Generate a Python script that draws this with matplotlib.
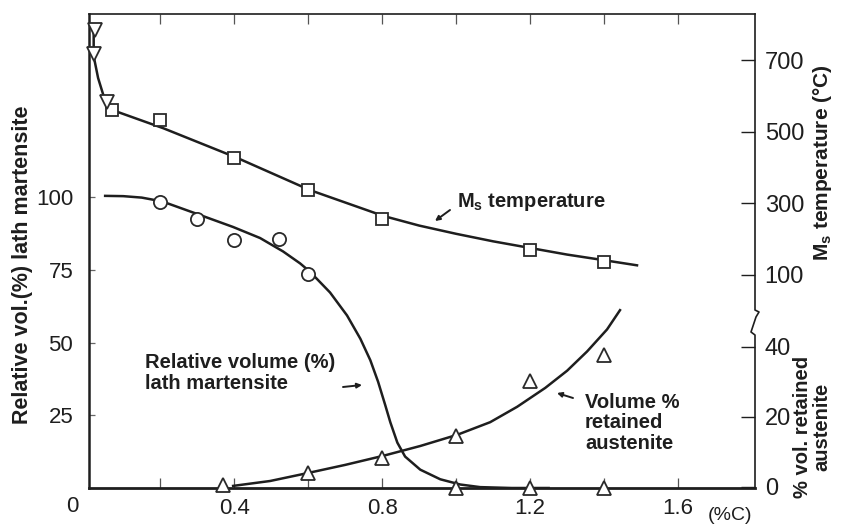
import numpy as np
import matplotlib.pyplot as plt

plt.rcParams['font.family'] = ['Liberation Sans', 'DejaVu Sans']
plt.rcParams['mathtext.fontset'] = 'custom'
plt.rcParams['mathtext.rm'] = 'Liberation Sans:bold'
plt.rcParams['mathtext.it'] = 'Liberation Sans:bold'
plt.rcParams['mathtext.bf'] = 'Liberation Sans:bold'

INK = '#1e1e1e'

# Ms temperature (deg C) vs carbon content (%C)
ms_sq_c = [0.07, 0.2, 0.4, 0.6, 0.8, 1.2, 1.4]
ms_sq_t = [561, 533, 427, 337, 256, 170, 136]
ms_tri_c = [0.024, 0.022, 0.057]
ms_tri_t = [784, 718, 583]
ms_curve_c = [0.020, 0.020, 0.021, 0.032, 0.046, 0.065, 0.086, 0.208, 0.408,
              0.605, 0.803, 0.9, 1.0, 1.1, 1.208, 1.3, 1.408, 1.489]
ms_curve_t = [776, 720, 706, 650, 603, 566, 555, 510, 427,
              337, 265, 238, 215, 194, 174, 157, 140, 127]

# relative volume (%) of lath martensite
lath_c = [0.2, 0.3, 0.4, 0.52, 0.6]
lath_v = [98.3, 92.4, 85.2, 85.6, 73.5]
lath_zero_c = [1.0, 1.2, 1.4]
lath_zero_v = [0, 0, 0]
lath_curve_c = [0.051, 0.1, 0.15, 0.205, 0.308, 0.397, 0.47, 0.532, 0.578,
                0.605, 0.659, 0.705, 0.741, 0.768, 0.789, 0.808, 0.822,
                0.841, 0.862, 0.903, 0.957, 1.011, 1.065, 1.15, 1.25]
lath_curve_v = [100.4, 100.3, 99.8, 98.5, 93.8, 89.7, 85.9, 81.3, 77.2,
                74.3, 67.2, 59.3, 51.3, 43.9, 36.5, 28.6, 22.6,
                15.6, 10.8, 6.3, 3.0, 1.2, 0.3, 0.0, 0.0]

# volume % retained austenite
ra_c = [0.37, 0.6, 0.8, 1.0, 1.2, 1.4]
ra_v = [0.6, 4.0, 8.3, 14.6, 30.3, 37.7]
ra_curve_c = [0.397, 0.497, 0.600, 0.700, 0.803, 0.903, 1.003, 1.092, 1.165,
              1.241, 1.300, 1.354, 1.408, 1.443]
ra_curve_v = [0.3, 1.7, 4.0, 6.3, 8.9, 11.7, 14.9, 18.5, 22.9,
              28.3, 33.2, 38.7, 45.0, 50.5]

x_ticks = [0.2, 0.4, 0.6, 0.8, 1.0, 1.2, 1.4, 1.6]
x_labels = ['', '0.4', '', '0.8', '', '1.2', '', '1.6']
lath_ticks = [25, 50, 75, 100]
ms_ticks = [100, 300, 500, 700]
ra_ticks = [0, 20, 40]

W, H = 843, 525


def fx(px):
    return px / W


def fy(py):
    return 1 - py / H


fig = plt.figure(figsize=(W / 100, H / 100), dpi=100)
fig.patch.set_facecolor('white')
ax = fig.add_axes([fx(88.5), fy(488), (755 - 88.5) / W, 474 / H])
ax.set_xlim(0.006, 1.808)
ax.set_ylim(0, 162.9)

ax_ms = ax.twinx()
ax_ms.set_ylim(-495, 829)
ax_ra = ax.twinx()
ax_ra.set_ylim(-0.3, 135.1)

for a in (ax_ms, ax_ra):
    for s in a.spines.values():
        s.set_visible(False)
ax.spines['right'].set_visible(False)
ax.spines['left'].set_linewidth(1.8)
ax.spines['bottom'].set_linewidth(2.0)
ax.spines['top'].set_linewidth(1.2)
for s in ax.spines.values():
    s.set_color(INK)

# broken right-hand spine
ax.plot([1, 1, 1.006, 1.0015, 0.994, 1, 1],
        [1, 0.3755, 0.3713, 0.3608, 0.3291, 0.3228, 0],
        transform=ax.transAxes, clip_on=False, color=INK, lw=1.2)

# x axis
ax.set_xticks(x_ticks)
ax.set_xticklabels(x_labels, fontsize=16)
ax.tick_params(axis='x', direction='in', top=True, length=7, width=0.9,
               color='#555555', pad=7, labelcolor=INK)

# left axis
ax.set_yticks(lath_ticks)
ax.set_yticklabels([str(t) for t in lath_ticks], fontsize=16)
ax.tick_params(axis='y', direction='in', length=4, width=0.9,
               color='#666666', pad=11, labelcolor=INK)

# right axes
ax_ms.set_yticks(ms_ticks)
ax_ms.set_yticklabels([str(t) for t in ms_ticks], fontsize=17)
ax_ra.set_yticks(ra_ticks)
ax_ra.set_yticklabels([str(t) for t in ra_ticks], fontsize=17)
for a in (ax_ms, ax_ra):
    a.tick_params(axis='y', direction='in', length=10, width=1.0,
                  color=INK, pad=7, labelcolor=INK)

# curves
ax_ms.plot(ms_curve_c, ms_curve_t, color=INK, lw=1.8, zorder=2)
ax.plot(lath_curve_c, lath_curve_v, color=INK, lw=1.8, zorder=2)
ax_ra.plot(ra_curve_c, ra_curve_v, color=INK, lw=1.8, zorder=2)

mk = dict(ls='none', mfc='white', mec='#2a2a2a', mew=1.3, zorder=3, clip_on=False)
ax_ms.plot(ms_sq_c, ms_sq_t, marker='s', ms=9, **mk)
ax_ms.plot(ms_tri_c, ms_tri_t, marker='v', ms=10, **mk)
ax.plot(lath_c, lath_v, marker='o', ms=9.5, **mk)
ax.plot(lath_zero_c, lath_zero_v, marker='^', ms=10, **mk)
ax_ra.plot(ra_c, ra_v, marker='^', ms=10, **mk)

# axis titles
fig.text(fx(23), fy(265), 'Relative vol.(%) lath martensite', rotation=90,
         ha='center', va='center', fontsize=15.5, weight='bold', color=INK)
fig.text(fx(822), fy(163), r'M$_\mathrm{s}$ temperature (°C)', rotation=90,
         ha='center', va='center', fontsize=15, weight='bold', color=INK)
fig.text(fx(812), fy(427), '% vol. retained\naustenite', rotation=90,
         ha='center', va='center', multialignment='center', linespacing=1.05,
         fontsize=14.5, weight='bold', color=INK)
fig.text(fx(72), fy(506), '0', fontsize=16,
         ha='center', va='center', color=INK)
fig.text(fx(730), fy(515), '(%C)', fontsize=14, ha='center', va='center',
         color=INK)

# curve labels
fig.text(fx(457), fy(202), r'M$_\mathrm{s}$ temperature', fontsize=14.5,
         weight='bold', ha='left', va='center', color=INK)
fig.text(fx(145), fy(373), 'Relative volume (%)\nlath martensite',
         fontsize=14.5, weight='bold', ha='left', va='center',
         linespacing=1.1, color=INK)
fig.text(fx(585), fy(423), 'Volume %\nretained\naustenite',
         fontsize=14.5, weight='bold', ha='left', va='center',
         linespacing=1.1, color=INK)

arrow = dict(arrowstyle='-|>', color=INK, lw=1.4, mutation_scale=7,
             shrinkA=0, shrinkB=0)
ax.annotate('', xy=(fx(435), fy(221)), xytext=(fx(450), fy(210)),
            xycoords='figure fraction', arrowprops=arrow)
ax.annotate('', xy=(fx(362), fy(385)), xytext=(fx(343), fy(387)),
            xycoords='figure fraction', arrowprops=arrow)
ax.annotate('', xy=(fx(557), fy(393)), xytext=(fx(573), fy(398)),
            xycoords='figure fraction', arrowprops=arrow)

fig.savefig('out.png', dpi=100, facecolor='white')
